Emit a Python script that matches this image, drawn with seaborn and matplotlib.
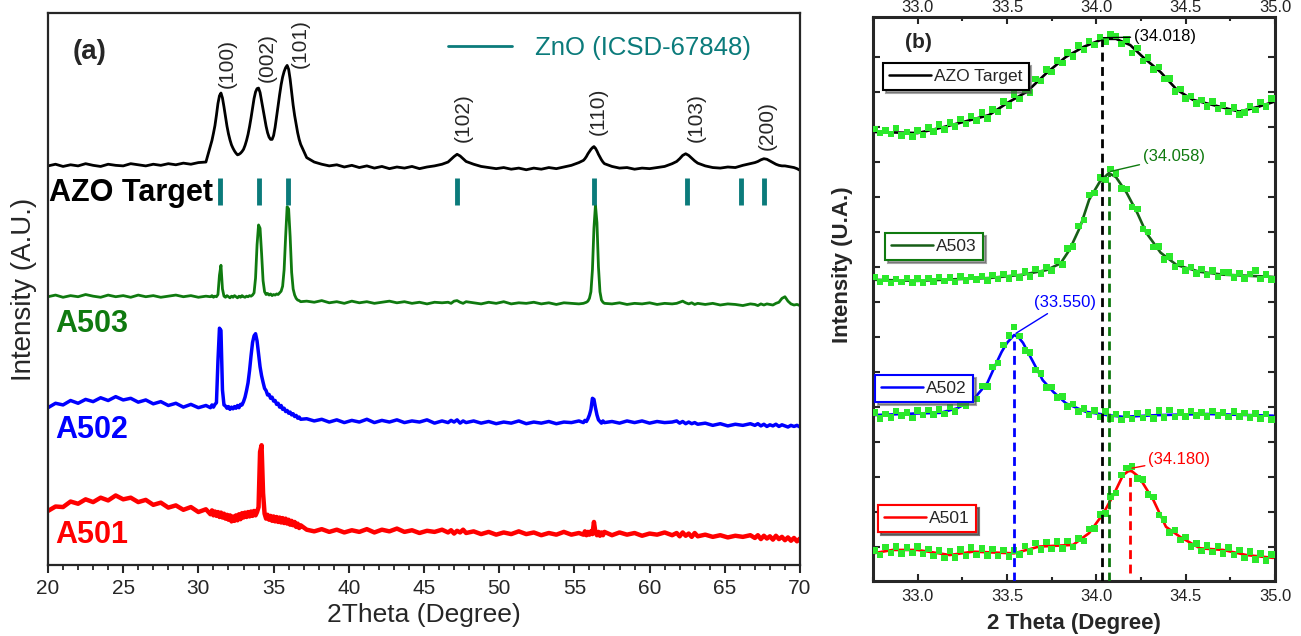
import numpy as np
import matplotlib
matplotlib.use("Agg")
import matplotlib.pyplot as plt
from matplotlib.lines import Line2D
from matplotlib.ticker import MultipleLocator, FixedLocator
import seaborn as sns

# ---------------- panel (a): full XRD scans ----------------
# scan grid: coarse on the background, finer around the reflections
scan_segments = [(20.0, 30.5, 0.5), (30.8, 36.8, 0.1), (37.2, 46.2, 0.5), (46.6, 47.8, 0.2),
                 (48.3, 55.3, 0.5), (55.6, 57.0, 0.1), (57.5, 61.5, 0.5), (61.8, 63.2, 0.2),
                 (63.7, 66.7, 0.5), (67.0, 70.0, 0.2)]
two_theta = np.concatenate([np.linspace(a, b, int(round((b - a) / s)) + 1) for a, b, s in scan_segments])

azo_target = (
    [72.3, 72.6, 72.2, 72.5, 72.3, 72.7, 72.4, 72.2, 72.6, 72.4, 72.3, 72.7, 72.5, 72.3, 72.6, 72.4, 72.7, 72.5, 72.8, 72.6, 72.9, 73.0]
    + [75.9, 76.9, 78.2, 79.6, 81.5, 83.6, 85.0, 85.5, 84.6, 83.0, 81.2, 79.5, 78.1, 77.0, 76.1, 75.5, 75.0, 74.6, 74.3, 74.4,
       74.6, 74.9, 75.3, 76.0, 76.9, 78.0, 79.4, 81.0, 82.8, 84.5, 85.7, 86.3, 86.4, 85.6, 84.1, 82.6, 81.0, 79.5, 78.3, 77.5,
       77.1, 77.1, 77.8, 79.3, 81.2, 83.2, 85.2, 87.0, 88.4, 89.4, 90.1, 90.5, 89.8, 88.0, 85.6, 83.3, 81.4, 79.8, 78.3, 77.1, 76.2]
    + [73.8, 73.0, 72.6, 72.3, 72.5, 72.1, 72.4, 72.0, 72.3, 71.9, 72.2, 71.8, 72.1, 71.9, 72.2, 71.8, 72.1, 72.3, 72.6]
    + [73.0, 73.5, 74.0, 74.4, 74.1, 73.6, 73.1]
    + [72.6, 72.2, 72.0, 71.8, 72.0, 71.7, 71.9, 71.6, 71.9, 71.7, 72.0, 71.8, 72.1, 72.4, 72.9]
    + [73.3, 73.6, 74.0, 74.5, 74.9, 75.3, 75.6, 75.8, 75.5, 75.0, 74.4, 73.9, 73.4, 73.0, 72.7]
    + [72.2, 71.9, 72.0, 71.7, 71.9, 71.8, 72.0, 72.2, 72.7]
    + [73.1, 73.6, 74.2, 74.5, 74.2, 73.7, 73.2, 72.8]
    + [72.3, 72.0, 71.9, 72.1, 72.0, 72.4, 72.7]
    + [72.9, 73.1, 73.4, 73.6, 73.5, 73.2, 72.9, 72.6, 72.4, 72.3, 72.3, 72.2, 72.1, 72.0, 71.8, 71.5]
)

a503 = (
    [48.6, 48.9, 48.5, 48.8, 48.6, 49.0, 48.7, 48.5, 48.9, 48.6, 48.8, 48.5, 48.9, 48.6, 48.8, 48.5, 48.7, 48.9, 48.6, 48.8, 48.5, 48.7]
    + [48.6, 48.8, 48.5, 48.7, 48.6, 49.0, 52.5, 54.3, 50.0, 48.7, 48.5, 48.8, 48.6, 48.4, 48.7, 48.5, 48.8, 48.6, 48.4, 48.7,
       48.5, 48.8, 48.6, 48.5, 48.7, 48.6, 48.8, 48.7, 48.9, 49.3, 52.0, 58.0, 61.6, 61.0, 56.5, 51.5, 49.5, 49.0, 49.2, 48.9,
       49.1, 48.8, 49.0, 48.9, 49.1, 49.0, 49.3, 49.6, 50.5, 53.5, 59.5, 64.9, 64.5, 59.5, 53.0, 50.0, 48.9, 48.3, 48.0, 47.9, 47.7]
    + [47.8, 47.6, 47.9, 47.5, 47.7, 47.4, 47.8, 47.5, 47.7, 47.4, 47.6, 47.8, 47.5, 47.7, 47.4, 47.6, 47.3, 47.6, 47.5]
    + [47.6, 47.4, 47.8, 47.9, 47.6, 47.4, 47.7]
    + [47.5, 47.3, 47.6, 47.4, 47.7, 47.3, 47.5, 47.4, 47.6, 47.3, 47.5, 47.2, 47.5, 47.4, 47.3]
    + [47.4, 47.5, 47.6, 47.8, 48.3, 49.5, 53.5, 61.0, 65.2, 62.0, 54.0, 49.5, 48.0, 47.6, 47.4]
    + [47.3, 47.5, 47.2, 47.4, 47.3, 47.5, 47.2, 47.4, 47.3]
    + [47.4, 47.6, 47.8, 47.5, 47.3, 47.5, 47.2, 47.4]
    + [47.2, 47.4, 47.1, 47.3, 47.2, 47.0, 47.3]
    + [47.2, 47.0, 47.3, 47.1, 47.3, 47.2, 47.1, 47.4, 47.6, 48.3, 48.6, 47.8, 47.3, 47.1, 47.2, 47.0]
)

a502 = (
    [28.5, 29.3, 29.0, 29.8, 29.3, 30.0, 29.6, 30.3, 29.8, 30.5, 29.9, 30.2, 29.5, 29.9, 29.2, 29.6, 28.9, 29.3, 28.6, 29.1, 28.5, 28.9]
    + [28.5, 29.0, 28.6, 29.1, 29.4, 37.0, 42.9, 42.5, 31.7, 29.0, 28.8, 28.4, 28.7, 28.2, 28.6, 28.3, 28.7, 28.4, 28.9, 28.5,
       29.1, 29.0, 29.6, 30.4, 31.6, 33.0, 35.2, 37.9, 40.3, 41.5, 41.9, 40.6, 38.2, 35.9, 34.3, 33.1, 32.0, 31.6, 30.8, 30.9,
       30.2, 30.4, 29.7, 29.8, 29.1, 29.3, 28.6, 28.9, 28.2, 28.4, 27.8, 28.0, 27.5, 27.7, 27.2, 27.4, 26.9, 27.1, 26.6, 26.8, 26.4]
    + [26.5, 26.1, 26.4, 25.9, 26.3, 25.8, 26.2, 25.9, 26.4, 25.8, 26.2, 25.9, 26.3, 25.8, 26.1, 25.9, 26.3, 25.7, 26.1]
    + [25.8, 26.2, 25.9, 26.3, 25.7, 26.1, 25.8]
    + [26.1, 25.7, 26.0, 25.6, 25.9, 25.7, 26.1, 25.6, 25.9, 25.7, 26.0, 25.6, 25.9, 25.8, 26.1]
    + [25.8, 26.2, 26.0, 26.5, 27.2, 28.2, 30.2, 30.0, 28.5, 27.2, 26.3, 26.0, 25.7, 26.1, 25.8]
    + [26.0, 25.7, 26.1, 25.8, 26.1, 25.7, 26.0, 25.8, 25.9]
    + [26.1, 25.7, 26.0, 25.6, 25.9, 25.6, 25.8, 25.5]
    + [25.7, 25.3, 25.6, 25.2, 25.5, 25.3, 25.6]
    + [25.3, 25.6, 25.2, 25.5, 25.1, 25.4, 25.2, 25.5, 25.1, 25.4, 25.2, 25.0, 25.3, 25.1, 25.3, 25.0]
)

a501 = (
    [9.8, 10.6, 10.5, 11.5, 11.1, 11.9, 11.4, 12.2, 11.7, 12.6, 11.9, 12.2, 11.4, 11.8, 10.9, 11.3, 10.4, 10.8, 10.0, 10.5, 9.6, 10.1]
    + [9.2, 9.9, 9.0, 9.7, 8.9, 9.6, 8.7, 9.5, 8.6, 9.3, 8.4, 9.1, 8.2, 9.0, 7.9, 8.8, 8.0, 9.0, 8.1, 9.2,
       8.3, 9.4, 8.6, 9.5, 8.7, 9.6, 8.8, 9.7, 8.9, 9.8, 9.0, 9.6, 10.5, 20.5, 21.7, 13.0, 9.3, 8.4, 9.1, 8.2,
       8.9, 8.0, 8.8, 7.9, 8.7, 7.8, 8.6, 7.7, 8.5, 7.6, 8.4, 7.5, 8.2, 7.3, 8.0, 7.2, 7.8, 6.9, 7.5, 6.7, 7.2]
    + [6.4, 6.1, 6.5, 6.0, 6.4, 5.9, 6.3, 6.0, 6.5, 5.9, 6.4, 6.1, 6.6, 6.0, 6.3, 5.8, 6.2, 6.0, 6.4]
    + [5.9, 6.3, 5.7, 6.2, 5.9, 6.4, 5.8]
    + [6.1, 5.6, 6.0, 5.5, 5.9, 5.6, 6.1, 5.6, 5.9, 5.4, 5.8, 5.5, 6.0, 5.5, 5.8]
    + [5.5, 6.1, 5.4, 6.0, 5.5, 6.1, 5.6, 7.8, 5.9, 5.4, 6.0, 5.3, 5.9, 5.4, 6.0]
    + [5.4, 5.9, 5.5, 5.8, 5.3, 5.7, 5.5, 5.9, 5.4]
    + [5.8, 5.2, 5.9, 5.3, 5.7, 5.1, 5.8, 5.2]
    + [5.5, 5.1, 5.4, 5.0, 5.3, 5.1, 5.4]
    + [4.9, 5.4, 4.7, 5.3, 4.8, 5.2, 4.6, 5.3, 4.7, 5.1, 4.5, 5.0, 4.4, 4.9, 4.3, 4.8]
)

zno_ref = [31.45, 34.0, 35.95, 47.2, 56.3, 62.5, 66.1, 67.6]
hkl_labels = ["(100)", "(002)", "(101)", "(102)", "(110)", "(103)", "(200)"]
hkl_x = [31.9, 34.56, 36.76, 47.6, 56.6, 63.1, 67.8]
hkl_y = [86.4, 87.5, 90.0, 76.6, 77.9, 76.6, 75.2]

# ---------------- panel (b): zoom on (002) ----------------
zoom_azo = [80.1, 79.4, 79.9, 79.2, 80.3, 79.0, 79.6, 78.8, 79.9, 79.1, 80.4, 79.7, 80.9, 80.0, 81.3, 80.6, 81.9, 81.0, 82.4, 81.6,
            83.0, 82.0, 83.6, 83.1, 85.0, 84.3, 86.2, 85.4, 87.1, 86.6, 89.0, 88.6, 90.7, 90.2, 92.3, 91.8, 93.7, 93.0, 94.9, 94.1,
            95.7, 95.0, 96.4, 95.6, 97.0, 96.6, 95.2, 96.0, 93.6, 94.5, 92.2, 92.8, 90.7, 91.1, 89.0, 89.1, 86.8, 87.2, 85.5, 86.0,
            84.6, 85.3, 84.1, 85.0, 83.7, 84.4, 83.1, 83.9, 82.7, 83.0, 84.2, 83.5, 84.9, 84.1, 85.5]
zoom_a503 = [53.9, 53.0, 53.6, 52.8, 53.5, 53.0, 53.7, 52.9, 53.6, 52.9, 53.7, 53.1, 53.9, 53.2, 53.8, 53.0, 54.0, 53.3, 53.9, 53.4,
             54.1, 53.3, 54.2, 53.5, 54.4, 53.6, 54.6, 53.8, 54.9, 54.0, 55.3, 54.5, 55.7, 55.0, 56.7, 56.1, 58.9, 59.3, 62.9, 64.0,
             68.4, 68.8, 71.5, 71.1, 73.0, 72.2, 69.6, 69.5, 66.3, 65.9, 62.4, 61.9, 59.2, 59.3, 57.0, 57.5, 55.7, 56.4, 55.0, 55.7,
             54.5, 55.3, 54.2, 55.0, 53.9, 54.8, 54.7, 53.8, 54.6, 53.6, 54.4, 55.0, 53.5, 54.3, 53.4]
zoom_a502 = [29.9, 28.8, 29.6, 29.0, 30.1, 29.3, 29.9, 28.9, 30.2, 29.4, 30.3, 29.5, 30.4, 29.6, 30.8, 30.0, 31.5, 31.0, 32.6, 32.3,
             34.6, 34.5, 37.9, 38.6, 41.8, 43.5, 45.0, 43.4, 40.9, 40.5, 37.4, 36.8, 34.3, 34.4, 32.5, 32.7, 30.9, 31.4, 30.0, 30.6,
             29.4, 30.2, 29.1, 30.0, 28.8, 29.6, 28.5, 29.5, 28.7, 29.8, 28.9, 29.9, 28.8, 30.2, 29.0, 30.3, 29.1, 29.9, 29.2, 30.1,
             29.3, 29.9, 29.2, 30.1, 29.3, 29.9, 29.1, 30.0, 29.2, 29.8, 29.0, 29.7, 28.8, 29.6, 28.6]
zoom_a501 = [5.4, 4.6, 6.0, 5.0, 6.1, 4.9, 5.9, 5.0, 6.1, 4.8, 5.7, 4.4, 5.4, 4.1, 5.3, 4.2, 5.6, 4.4, 5.9, 4.6,
             5.8, 4.5, 5.7, 4.4, 5.5, 4.3, 5.4, 4.7, 6.2, 5.2, 6.7, 5.6, 6.9, 5.7, 7.0, 5.8, 7.1, 6.0, 7.5, 7.1,
             9.2, 9.3, 11.8, 12.0, 15.0, 15.6, 18.8, 20.0, 20.3, 18.2, 18.0, 15.3, 14.9, 11.7, 10.9, 8.6, 9.0, 7.3, 7.8, 6.1,
             6.6, 5.3, 6.3, 5.1, 6.2, 4.9, 5.9, 4.6, 5.5, 4.1, 5.2, 3.8, 4.9, 3.6, 4.7]
zoom_x = np.linspace(32.76, 34.98, len(zoom_azo))

fit_azo_x = [32.75, 33.0, 33.125, 33.26, 33.40, 33.5, 33.61, 33.72, 33.83, 33.93, 34.04, 34.11, 34.19, 34.26, 34.36, 34.45, 34.54, 34.65, 34.80, 34.90, 34.99]
fit_azo_y = [79.6, 79.4, 80.3, 81.4, 82.6, 84.7, 86.7, 90.0, 92.9, 94.7, 96.1, 96.1, 95.0, 92.9, 90.2, 87.1, 85.3, 84.4, 83.2, 84.0, 84.9]
fit_a503_x = [32.75, 33.0, 33.22, 33.40, 33.59, 33.72, 33.80, 33.85, 33.91, 33.96, 34.02, 34.07, 34.11, 34.17, 34.23, 34.28, 34.36, 34.45, 34.58, 34.71, 34.99]
fit_a503_y = [53.4, 53.2, 53.5, 53.7, 54.3, 55.1, 56.3, 58.7, 62.8, 67.6, 70.8, 72.3, 71.6, 68.8, 65.2, 61.7, 58.2, 56.0, 54.8, 54.3, 53.9]
fit_a502_x = [32.75, 33.0, 33.125, 33.22, 33.31, 33.39, 33.44, 33.47, 33.50, 33.54, 33.565, 33.59, 33.64, 33.70, 33.76, 33.83, 33.94, 34.06, 34.15, 34.34, 34.62, 34.99]
fit_a502_y = [29.4, 29.7, 29.8, 30.6, 32.1, 35.1, 38.6, 40.6, 42.2, 43.6, 43.2, 42.2, 39.2, 35.6, 33.5, 31.5, 30.0, 29.4, 29.1, 29.4, 29.6, 29.3]
fit_a501_x = [32.75, 32.86, 33.0, 33.18, 33.31, 33.54, 33.68, 33.87, 33.96, 34.04, 34.10, 34.15, 34.19, 34.24, 34.32, 34.39, 34.47, 34.58, 34.71, 34.84, 34.99]
fit_a501_y = [4.9, 5.5, 5.5, 4.6, 5.2, 4.9, 6.1, 6.4, 8.5, 12.0, 15.5, 18.8, 19.7, 18.4, 14.3, 9.6, 7.8, 5.8, 5.5, 4.6, 4.1]

peak_pos = [34.03, 34.07, 33.54, 34.19]
peak_top = [96.0, 72.3, 43.6, 19.7]
peak_text = ["(34.018)", "(34.058)", "(33.550)", "(34.180)"]
zoom_ticks = [33.0, 33.5, 34.0, 34.5, 35.0]
zoom_ticklabels = ["33.0", "33.5", "34.0", "34.5", "35.0"]

BLACK, GREEN, BLUE, RED = "#000000", "#0f7a0f", "#0000ff", "#ff0000"
TEAL = "#0b7b7b"
FIT_GREEN = "#165e16"
DOT = "#2be82b"

sns.set_style("ticks")
plt.rcParams["font.family"] = ["Liberation Sans", "DejaVu Sans"]

fig = plt.figure(figsize=(13.01, 6.36), dpi=100)
ax = fig.add_axes([0.0369, 0.1116, 0.578, 0.868])
axb = fig.add_axes([0.671, 0.0865, 0.309, 0.887])

# ---- panel (a)
for ys, c, lw in [(azo_target, BLACK, 2.0), (a503, GREEN, 2.0), (a502, BLUE, 2.5), (a501, RED, 3.2)]:
    n = min(len(two_theta), len(ys))
    sns.lineplot(x=two_theta[:n], y=ys[:n], color=c, lw=lw, ax=ax, estimator=None, sort=False, legend=False)

ax.vlines(zno_ref, 65.2, 70.1, colors=TEAL, lw=3.5)
for t, xx, yy in zip(hkl_labels, hkl_x, hkl_y):
    ax.text(xx, yy, t, rotation=90, ha="center", va="bottom", fontsize=15)

ax.text(20.05, 67.4, "AZO Target", fontsize=22, fontweight="bold", color=BLACK, va="center", ha="left")
ax.text(20.47, 43.7, "A503", fontsize=22, fontweight="bold", color=GREEN, va="center", ha="left")
ax.text(20.47, 24.5, "A502", fontsize=22, fontweight="bold", color=BLUE, va="center", ha="left")
ax.text(20.47, 5.4, "A501", fontsize=22, fontweight="bold", color=RED, va="center", ha="left")
ax.text(0.033, 0.93, "(a)", transform=ax.transAxes, fontsize=20, fontweight="bold", va="center", ha="left")

ax.legend([Line2D([], [], color=TEAL, lw=2)], ["ZnO (ICSD-67848)"], loc="center left",
          bbox_to_anchor=(0.532, 0.937), frameon=False, fontsize=18.5, handlelength=2.5,
          handletextpad=0.9, borderpad=0, borderaxespad=0, labelcolor=TEAL)

ax.set_xlim(20, 70)
ax.set_ylim(0, 100)
ax.set_yticks([])
ax.xaxis.set_major_locator(MultipleLocator(5))
ax.xaxis.set_minor_locator(MultipleLocator(1))
ax.tick_params(axis="x", which="major", direction="out", length=6, width=1.5, labelsize=15, pad=4)
ax.tick_params(axis="x", which="minor", direction="out", length=3.5, width=1.3)
for s in ax.spines.values():
    s.set_visible(True)
    s.set_linewidth(1.6)
ax.set_xlabel("2Theta (Degree)", fontsize=19, labelpad=4)
ax.set_ylabel("Intensity (A.U.)", fontsize=20, labelpad=8)

# ---- panel (b)
fits = [(fit_azo_x, fit_azo_y, BLACK), (fit_a503_x, fit_a503_y, FIT_GREEN),
        (fit_a502_x, fit_a502_y, BLUE), (fit_a501_x, fit_a501_y, RED)]
for fx, fy, c in fits:
    sns.lineplot(x=fx, y=fy, color=c, lw=1.9, ax=axb, estimator=None, sort=False, legend=False, zorder=2)
for zy in [zoom_azo, zoom_a503, zoom_a502, zoom_a501]:
    sns.scatterplot(x=zoom_x, y=zy, color=DOT, marker="s", s=22, edgecolor="none", ax=axb, legend=False, zorder=3)

dash_colors = [BLACK, GREEN, BLUE, RED]
dash_bottom = [0, 0, 0, 1.4]
for px, top, bot, c in zip(peak_pos, peak_top, dash_bottom, dash_colors):
    axb.plot([px, px], [bot, top], color=c, lw=2.0, ls=(0, (3.2, 2.0)), zorder=4)

text_pos = [(34.21, 96.5), (34.26, 75.2), (33.65, 49.3), (34.29, 21.6)]
for px, top, t, c, (tx, ty) in zip(peak_pos, peak_top, peak_text, dash_colors, text_pos):
    axb.annotate(t, xy=(px + 0.01, top + 0.3), xytext=(tx, ty), color=c, fontsize=12, va="center", ha="left",
                 arrowprops=dict(arrowstyle="-", color=c, lw=1.0, shrinkA=0, shrinkB=0), zorder=5)

boxes = [("AZO Target", BLACK, BLACK, (0.025, 0.918)), ("A503", FIT_GREEN, GREEN, (0.03, 0.617)),
         ("A502", BLUE, BLUE, (0.005, 0.365)), ("A501", RED, RED, (0.012, 0.135))]
for lab, lc, ec, anchor in boxes:
    lg = axb.legend([Line2D([], [], color=lc, lw=1.8)], [lab], loc="upper left", bbox_to_anchor=anchor,
                    fontsize=12.5, handlelength=2.4, handletextpad=0.2, borderpad=0.35, borderaxespad=0,
                    fancybox=False, shadow=True, framealpha=1, edgecolor=ec)
    lg.get_frame().set_linewidth(1.5)
    axb.add_artist(lg)

axb.text(32.93, 95.4, "(b)", fontsize=15, fontweight="bold", va="center", ha="left")
axb.set_xlim(32.75, 35.0)
axb.set_ylim(0, 100)
axb.xaxis.set_major_locator(FixedLocator(zoom_ticks))
axb.xaxis.set_minor_locator(MultipleLocator(0.25))
axb.set_xticklabels(zoom_ticklabels)
axb.yaxis.set_major_locator(FixedLocator(list(np.arange(6.1, 99.0, 6.2))))
axb.set_yticklabels([])
axb.tick_params(axis="x", which="both", direction="in", top=True, bottom=True, labeltop=False,
                labelsize=12, labelcolor="#222222", width=1.5, length=5, pad=6)
axb.tick_params(axis="x", which="minor", length=3)
axb.tick_params(axis="y", which="both", direction="in", left=True, right=True, length=5, width=1.5)
for s in axb.spines.values():
    s.set_visible(True)
    s.set_linewidth(2.2)

# top labels squeezed close to the frame so they stay on the canvas
top = axb.secondary_xaxis("top")
top.set_xticks(zoom_ticks)
top.set_xticklabels(zoom_ticklabels)
top.tick_params(axis="x", direction="in", length=0, labelsize=12, labelcolor="#222222", pad=1.5)
top.spines["top"].set_visible(False)

axb.set_xlabel("2 Theta (Degree)", fontsize=16, fontweight="bold", labelpad=6)
axb.set_ylabel("Intensity (U.A.)", fontsize=16, fontweight="bold")
axb.yaxis.set_label_coords(-0.05, 0.56)

fig.savefig("out.png", dpi=100)
